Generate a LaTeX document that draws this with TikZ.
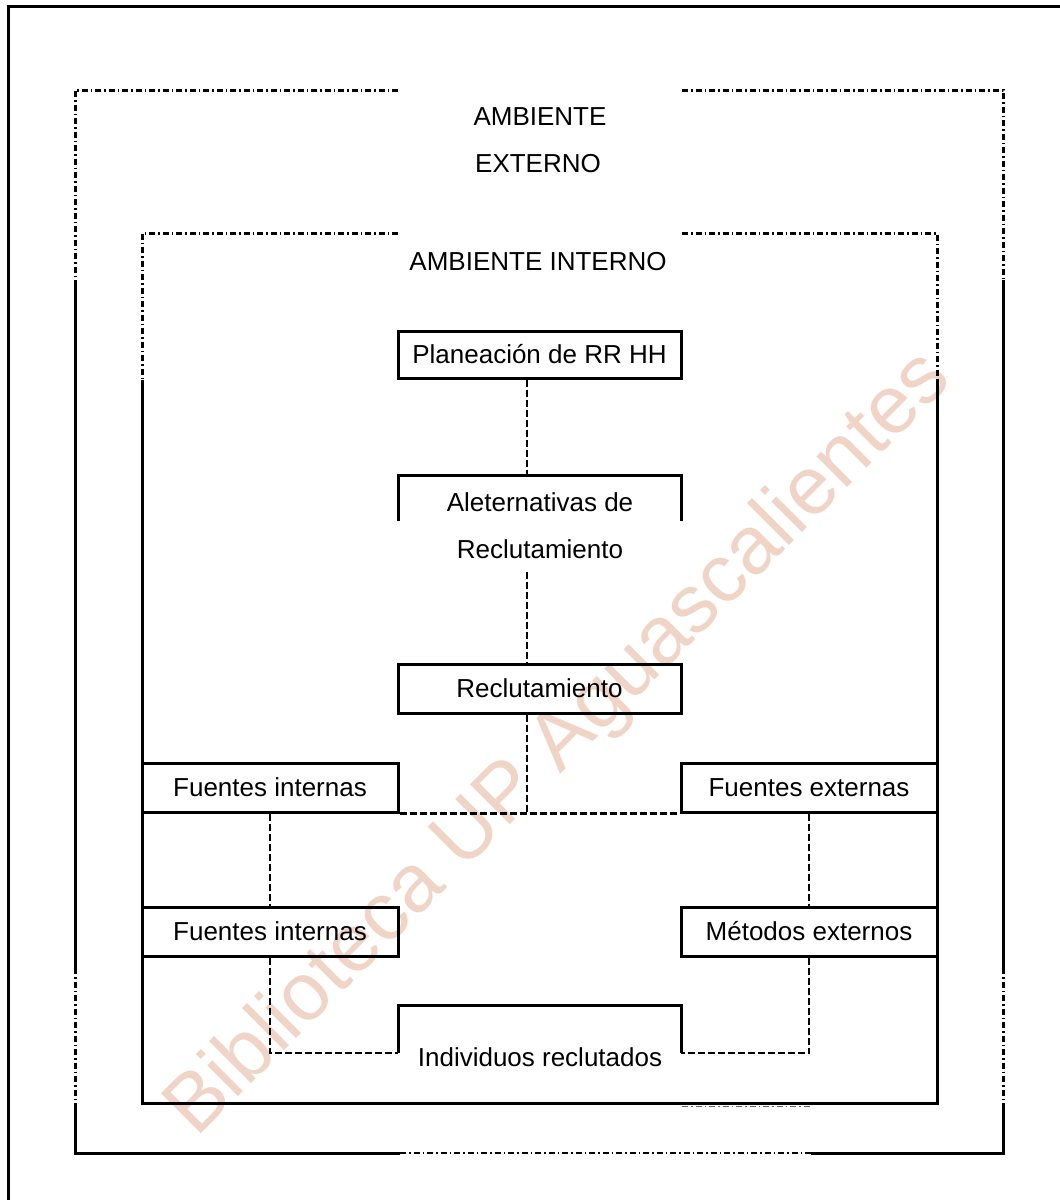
\documentclass[tikz,border=0pt]{standalone}
\usepackage{fontspec}
\setmainfont{Liberation Sans}
\definecolor{wm}{RGB}{240,212,198}
\begin{document}
\begin{tikzpicture}[x=1pt,y=-1pt,
  frameline/.style={line width=3pt},
  dashdot/.style={line width=3pt, dash pattern=on 6pt off 3pt on 1.5pt off 3pt},
  conn/.style={line width=2.5pt, dash pattern=on 7pt off 3pt},
  box/.style={draw, line width=3pt, inner sep=0pt, font=\fontsize{26}{30}\selectfont},
  lbl/.style={inner sep=0pt, font=\fontsize{26}{30}\selectfont}]
\useasboundingbox (0,0) rectangle (1060,1200);
% watermark
\node[text=wm, rotate=45, inner sep=0pt, font=\fontsize{82}{82}\selectfont] (wmk) at (560,745) {Biblioteca UP Aguascalientes};
% page frame
\draw[frameline] (8,1200) -- (8,6) -- (1060,6);
% outer environment
\draw[dashdot] (398,90) -- (75,90) -- (75,280);
\draw[dashdot] (682,90) -- (1003,90) -- (1003,280);
\draw[frameline] (75,280) -- (75,968);
\draw[frameline] (1003,280) -- (1003,968);
\draw[dashdot] (75,968) -- (75,1103);
\draw[dashdot] (1003,968) -- (1003,1103);
\draw[frameline] (75,1103) -- (75,1153) -- (400,1153);
\draw[frameline] (1003,1103) -- (1003,1153) -- (811,1153);
\draw[dashdot, line width=2pt] (400,1153) -- (811,1153);
% inner environment
\draw[dashdot] (398,233) -- (142,233) -- (142,380);
\draw[dashdot] (682,233) -- (937,233) -- (937,380);
\draw[frameline] (142,380) -- (142,1103) -- (937,1103) -- (937,380);
\draw[dashdot, line width=1pt, black!60] (682,1106) -- (811,1106);
% labels
\node[lbl] (amb1) at (540,117) {AMBIENTE};
\node[lbl] (amb2) at (538,164) {EXTERNO};
\node[lbl] (ambi) at (538,262) {AMBIENTE INTERNO};
% boxes
\node[box, minimum width=283pt, minimum height=47pt] (plan) at (539.5,354.5) {Planeación de RR HH};
\node[box, minimum width=283pt, minimum height=49pt] (rec) at (539.5,688.5) {Reclutamiento};
\node[box, minimum width=256pt, minimum height=49pt] (fi1) at (270,787.5) {Fuentes internas};
\node[box, minimum width=256pt, minimum height=49pt] (fe1) at (809,787.5) {Fuentes externas};
\node[box, minimum width=256pt, minimum height=49pt] (fi2) at (270,931.5) {Fuentes internas};
\node[box, minimum width=256pt, minimum height=49pt] (me) at (809,931.5) {Métodos externos};
% open box: alternativas
\draw[frameline] (398,521) -- (398,475) -- (681,475) -- (681,521);
\node[lbl] (alt1) at (540,502) {Aleternativas de};
\node[lbl] (alt2) at (540,549) {Reclutamiento};
\coordinate (altTop) at (527,475);
\coordinate (altBot) at (527,572);
% open box: individuos
\coordinate (indL) at (398,1053);
\coordinate (indR) at (681,1053);
\draw[frameline] (indL) -- (398,1005) -- (681,1005) -- (indR);
\node[lbl] (ind) at (540,1057) {Individuos reclutados};
% connectors
\draw[conn] (plan.south -| altTop) -- (altTop);
\draw[conn] (altBot) -- (altBot |- rec.north);
\coordinate (junc) at (527,812);
\draw[conn] (rec.south -| junc) -- (junc);
\draw[conn] (fi1.south east) -- (fe1.south west);
\draw[conn] (fi1.south) -- (fi2.north);
\draw[conn] (fe1.south) -- (me.north);
\draw[conn] (fi2.south) |- (indL);
\draw[conn] (me.south) |- (indR);
\end{tikzpicture}
\end{document}
